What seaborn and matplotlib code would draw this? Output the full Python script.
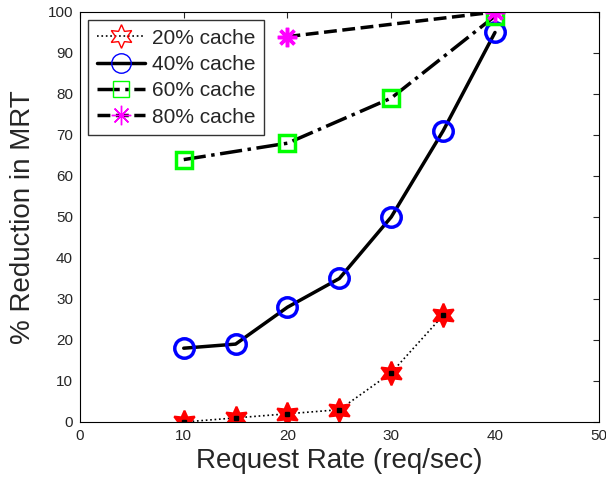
import matplotlib
matplotlib.use("Agg")
import matplotlib.pyplot as plt
import seaborn as sns

# data
x20 = [10, 15, 20, 25, 30, 35]
y20 = [0, 1, 2, 3, 12, 26]
x40 = [10, 15, 20, 25, 30, 35, 40]
y40 = [18, 19, 28, 35, 50, 71, 95]
x60 = [10, 20, 30, 40]
y60 = [64, 68, 79, 99]
x80 = [20, 40]
y80 = [94, 100]
labels = ["20% cache", "40% cache", "60% cache", "80% cache"]

sns.set_style("white")
plt.rcParams["font.family"] = ["Liberation Sans", "DejaVu Sans"]

fig, ax = plt.subplots(figsize=(6.06, 4.79), dpi=100)
fig.subplots_adjust(left=0.132, right=0.988, bottom=0.119, top=0.975)

hexagram = (6, 1, 0)
asterisk = (8, 2, 0)

# 20% cache - dotted, red hexagram
sns.lineplot(x=x20, y=y20, ax=ax, color="black", linestyle=":", linewidth=1.2,
             marker=hexagram, markersize=17, markerfacecolor="red",
             markeredgecolor="red", markeredgewidth=1.5, label=labels[0])
ax.plot(x20, y20, linestyle="none", marker="s", markersize=3, color="black")

# 40% cache - solid, blue circle
sns.lineplot(x=x40, y=y40, ax=ax, color="black", linestyle="-", linewidth=2.5,
             marker="o", markersize=14, markerfacecolor="none",
             markeredgecolor="blue", markeredgewidth=2.5, label=labels[1])

# 60% cache - dash-dot, green square
sns.lineplot(x=x60, y=y60, ax=ax, color="black", linestyle="-.", linewidth=2.5,
             marker="s", markersize=12, markerfacecolor="none",
             markeredgecolor="#00ff00", markeredgewidth=2.5, label=labels[2])

# 80% cache - dashed, magenta asterisk
sns.lineplot(x=x80, y=y80, ax=ax, color="black", linestyle="--", linewidth=2.5,
             marker=asterisk, markersize=14, markerfacecolor="magenta",
             markeredgecolor="magenta", markeredgewidth=2.5, label=labels[3])

ax.set_xlim(0, 50)
ax.set_ylim(0, 100)
ax.set_xticks(range(0, 51, 10))
ax.set_yticks(range(0, 101, 10))
ax.tick_params(direction="in", top=True, right=True, labelsize=11, length=4, pad=5)
ax.set_xlabel("Request Rate (req/sec)", fontsize=20, labelpad=4)
ax.set_ylabel("% Reduction in MRT", fontsize=20, labelpad=8)
for s in ax.spines.values():
    s.set_color("black")
    s.set_linewidth(0.8)

leg = ax.legend(loc="upper left", fontsize=15, frameon=True, fancybox=False,
                handlelength=2.3, borderpad=0.4, labelspacing=0.35,
                handletextpad=0.35, borderaxespad=0.4)
leg.get_frame().set_edgecolor("black")
leg.get_frame().set_linewidth(1.0)
hs = leg.legend_handles
hs[0].set_markerfacecolor("none")
for h in hs:
    h.set_markeredgewidth(1.0)

fig.savefig("out.png", dpi=100)
